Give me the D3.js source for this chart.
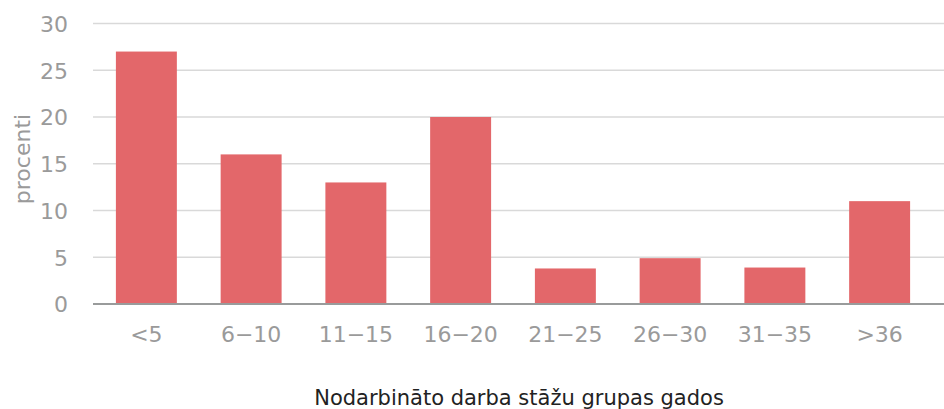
<!DOCTYPE html>
<html><head><meta charset="utf-8">
<script src="https://cdn.jsdelivr.net/npm/d3@7"></script>
<style>html,body{margin:0;padding:0;background:#fff;}svg{display:block;font-family:"DejaVu Sans",Verdana,sans-serif;}</style>
</head><body>
<svg id="c" width="944" height="409"></svg>
<script>
const categories = ["<5","6−10","11−15","16−20","21−25","26−30","31−35",">36"];
const values = [27, 16, 13, 20, 3.8, 4.9, 3.9, 11];
const yTicks = [0,5,10,15,20,25,30];
const xTitle = "Nodarbināto darba stāžu grupas gados";
const yTitle = "procenti";

const svg = d3.select("#c");
const x = d3.scaleBand().domain(categories).range([94, 932]).paddingInner(0.418).paddingOuter(0.209);
const y = d3.scaleLinear().domain([0, 30]).range([304, 23.5]);

// gridlines
svg.append("g").selectAll("line").data(yTicks.filter(d => d > 0)).join("line")
  .attr("x1", 93).attr("x2", 944)
  .attr("y1", d => y(d)).attr("y2", d => y(d))
  .attr("stroke", "#d9d9d9").attr("stroke-width", 1.5);

// bars
svg.append("g").selectAll("rect").data(values).join("rect")
  .attr("x", (d, i) => x(categories[i]))
  .attr("width", x.bandwidth())
  .attr("y", d => y(d))
  .attr("height", d => y(0) - y(d))
  .attr("fill", "#e3676a");

// baseline
svg.append("line").attr("x1", 93).attr("x2", 944)
  .attr("y1", y(0)).attr("y2", y(0))
  .attr("stroke", "#999b9b").attr("stroke-width", 2);

// y axis labels
const yAxis = d3.axisLeft(y).tickValues(yTicks).tickSize(0).tickPadding(0).tickFormat(d3.format("d"));
const gy = svg.append("g").attr("transform", "translate(68,0)").call(yAxis);
gy.select(".domain").remove();
gy.selectAll("text").attr("fill", "#9a9a9a").style("font-size", "22px")
  .attr("font-family", "DejaVu Sans").attr("dy", "0.36em");

// x axis labels
const xAxis = d3.axisBottom(x).tickSize(0).tickPadding(0);
const gx = svg.append("g").attr("transform", "translate(0,342)").call(xAxis);
gx.select(".domain").remove();
gx.selectAll("text").attr("fill", "#9a9a9a").style("font-size", "22px")
  .attr("font-family", "DejaVu Sans").attr("dy", "0").attr("y", 0);

// titles
svg.append("text").attr("x", 519).attr("y", 405).attr("text-anchor", "middle")
  .style("font-size", "21px").attr("fill", "#222").text(xTitle);
svg.append("text").attr("transform", "translate(30,159) rotate(-90)")
  .attr("text-anchor", "middle").style("font-size", "22px").attr("fill", "#9a9a9a").text(yTitle);
</script>
</body></html>
